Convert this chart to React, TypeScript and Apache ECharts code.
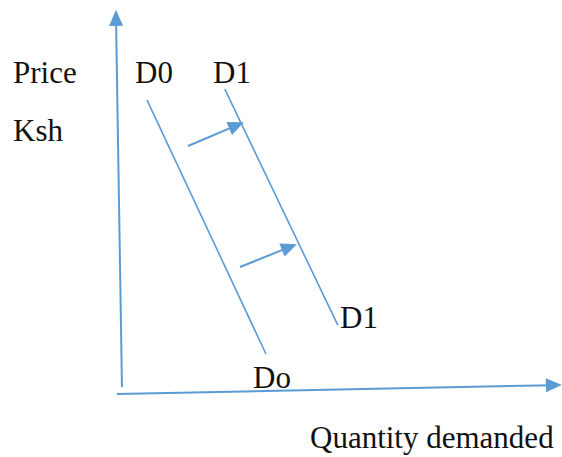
import React, { useEffect, useRef } from "react";
import * as echarts from "echarts";

// Demand curves (quantity, price) in arbitrary chart units
const demandD0: number[][] = [
  [8.2, 76.9],
  [34.5, 11.8],
];
const demandD1: number[][] = [
  [25.4, 79.7],
  [50.4, 19.2],
];
// Axes drawn as arrows (start, tip)
const priceAxis: number[][] = [
  [2.65, 3.33],
  [1.33, 98.0],
];
const quantityAxis: number[][] = [
  [1.55, 1.54],
  [98.2, 3.8],
];
// Shift arrows (start, tip)
const shiftArrows: number[][][] = [
  [
    [17.26, 65.13],
    [28.0, 70.4],
  ],
  [
    [28.76, 34.1],
    [39.7, 39.2],
  ],
];

const BLUE = "#5B9BD5";
const FONT = "Liberation Serif";

export default function App() {
  const ref = useRef<HTMLDivElement>(null);

  useEffect(() => {
    document.body.style.margin = "0";
    if (!ref.current) return;
    const chart = echarts.init(ref.current, null, { renderer: "svg" });

    const arrowLine = (pts: number[][], width: number) => [
      {
        coord: pts[0],
        symbol: "none",
        lineStyle: { color: BLUE, width, type: "solid" },
      },
      { coord: pts[1], symbol: "triangle", symbolSize: [14, 16] },
    ];

    const text = (t: string, x: number, y: number) => ({
      type: "text",
      x,
      y,
      style: {
        text: t,
        fontFamily: FONT,
        fontSize: 31,
        fill: "#111",
        verticalAlign: "middle",
        align: "left",
      },
    });

    chart.setOption({
      animation: false,
      textStyle: { fontFamily: FONT },
      grid: { left: 110, right: 0, top: 10, bottom: 57 },
      xAxis: {
        type: "value",
        min: 0,
        max: 100,
        show: false,
      },
      yAxis: {
        type: "value",
        min: 0,
        max: 100,
        show: false,
      },
      series: [
        {
          type: "line",
          data: demandD0,
          symbol: "none",
          lineStyle: { color: BLUE, width: 1.6 },
          silent: true,
        },
        {
          type: "line",
          data: demandD1,
          symbol: "none",
          lineStyle: { color: BLUE, width: 1.6 },
          silent: true,
          markLine: {
            silent: true,
            animation: false,
            label: { show: false },
            symbol: ["none", "triangle"],
            symbolSize: [14, 16],
            lineStyle: { color: BLUE, width: 2, type: "solid" },
            itemStyle: { color: BLUE },
            data: [
              arrowLine(priceAxis, 2),
              arrowLine(quantityAxis, 2),
              arrowLine(shiftArrows[0], 2),
              arrowLine(shiftArrows[1], 2),
            ],
          },
        },
      ],
      graphic: [
        text("Price", 13, 72),
        text("Ksh", 13, 130),
        text("D0", 135, 72),
        text("D1", 213, 72),
        text("D1", 340, 317),
        text("Do", 253, 377),
        text("Quantity demanded", 310, 437),
      ],
    });

    return () => chart.dispose();
  }, []);

  return <div ref={ref} style={{ width: 562, height: 457 }} />;
}
